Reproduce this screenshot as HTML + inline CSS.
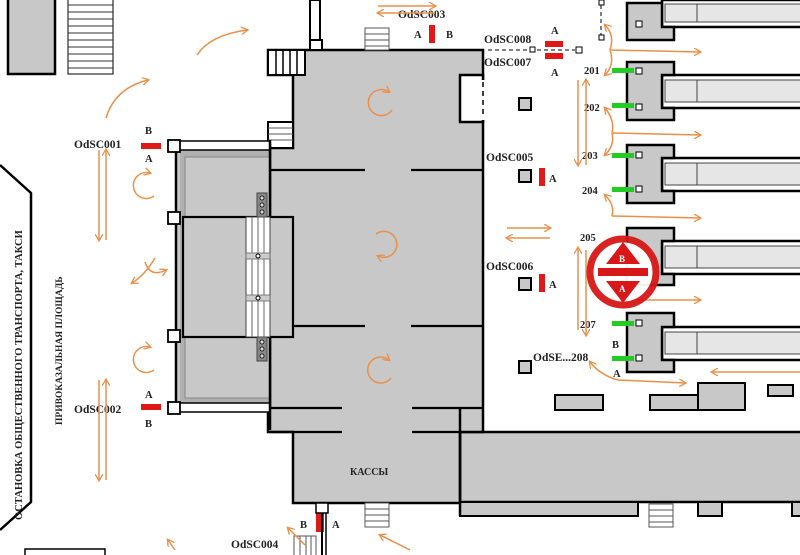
<!DOCTYPE html>
<html><head><meta charset="utf-8"><style>
html,body{margin:0;padding:0;background:#fff;width:800px;height:555px;overflow:hidden}
svg{display:block}
text{font-family:"Liberation Serif",serif;font-weight:bold;fill:#222}
</style></head><body>
<svg width="800" height="555" viewBox="0 0 800 555" xmlns="http://www.w3.org/2000/svg">
<defs>
<marker id="ah" markerWidth="8" markerHeight="8" refX="6" refY="4" orient="auto" markerUnits="userSpaceOnUse"><path d="M0,0 L7,4 L0,8" fill="none" stroke="#e8904a" stroke-width="1.3"/></marker>
</defs>
<g stroke="#000" stroke-width="2.5">
<rect x="8" y="-2" width="47" height="76" fill="#c8c8c8"/>
<rect x="68" y="-2" width="45" height="76" fill="#fff" stroke-width="1"/>
</g>
<g stroke="#333" stroke-width="1">
<line x1="68" y1="5" x2="113" y2="5"/><line x1="68" y1="12" x2="113" y2="12"/><line x1="68" y1="19" x2="113" y2="19"/><line x1="68" y1="26" x2="113" y2="26"/><line x1="68" y1="33" x2="113" y2="33"/><line x1="68" y1="40" x2="113" y2="40"/><line x1="68" y1="47" x2="113" y2="47"/><line x1="68" y1="54" x2="113" y2="54"/><line x1="68" y1="61" x2="113" y2="61"/><line x1="68" y1="68" x2="113" y2="68"/>
</g>
<path d="M0,165 L31,193 L31,502 L0,530" fill="none" stroke="#000" stroke-width="2.5"/>
<text transform="translate(22,520) rotate(-90)" font-size="10.5">ОСТАНОВКА ОБЩЕСТВЕННОГО ТРАНСПОРТА, ТАКСИ</text>
<text transform="translate(62,425) rotate(-90)" font-size="9.5">ПРИВОКАЗАЛЬНАЯ ПЛОЩАДЬ</text>
<rect x="25" y="549" width="80" height="10" fill="#fff" stroke="#000" stroke-width="1.5"/>

<rect x="460" y="432" width="345" height="70" fill="#c8c8c8" stroke="#000" stroke-width="2.5"/>
<rect x="460" y="502" width="178" height="14" fill="#c8c8c8" stroke="#000" stroke-width="2"/>
<rect x="698" y="502" width="24" height="14" fill="#c8c8c8" stroke="#000" stroke-width="2"/>
<rect x="792" y="502" width="20" height="14" fill="#c8c8c8" stroke="#000" stroke-width="2"/>
<rect x="649" y="504" width="24" height="23" fill="#fff" stroke="#555" stroke-width="1"/>
<g stroke="#555" stroke-width="1"><line x1="649" y1="510" x2="673" y2="510"/><line x1="649" y1="516" x2="673" y2="516"/><line x1="649" y1="522" x2="673" y2="522"/></g>

<path d="M268,50 L483,50 L483,432 L460,432 L460,503 L293,503 L293,432 L268,432 L268,148 L293,148 L293,75 L268,75 Z" fill="#c8c8c8" stroke="#000" stroke-width="2.5"/>
<rect x="460" y="75" width="23" height="47" fill="#fff" stroke="#000" stroke-width="2.5"/>
<line x1="483" y1="80" x2="483" y2="120" stroke="#fff" stroke-width="3"/>
<line x1="483" y1="82" x2="483" y2="118" stroke="#000" stroke-width="1.5" stroke-dasharray="5,4"/>
<line x1="460" y1="408" x2="460" y2="516" stroke="#000" stroke-width="2.5"/>
<rect x="268" y="50" width="37" height="25" fill="#fff" stroke="#000" stroke-width="2"/>
<g stroke="#000" stroke-width="1.5"><line x1="276" y1="50" x2="276" y2="75"/><line x1="283" y1="50" x2="283" y2="75"/><line x1="290" y1="50" x2="290" y2="75"/><line x1="297" y1="50" x2="297" y2="75"/></g>
<rect x="268" y="122" width="25" height="26" fill="#fff" stroke="#000" stroke-width="2"/>
<g stroke="#555" stroke-width="1"><line x1="268" y1="128" x2="293" y2="128"/><line x1="268" y1="134" x2="293" y2="134"/><line x1="268" y1="140" x2="293" y2="140"/></g>
<rect x="310" y="0" width="10" height="40" fill="#fff" stroke="#000" stroke-width="2"/>
<rect x="310" y="40" width="12" height="10" fill="#fff" stroke="#000" stroke-width="2"/>
<rect x="365" y="28" width="24" height="22" fill="#fff" stroke="#555" stroke-width="1"/>
<g stroke="#555" stroke-width="1"><line x1="365" y1="34" x2="389" y2="34"/><line x1="365" y1="40" x2="389" y2="40"/><line x1="365" y1="46" x2="389" y2="46"/></g>
<rect x="365" y="503" width="24" height="24" fill="#fff" stroke="#555" stroke-width="1"/>
<g stroke="#555" stroke-width="1"><line x1="365" y1="509" x2="389" y2="509"/><line x1="365" y1="515" x2="389" y2="515"/><line x1="365" y1="521" x2="389" y2="521"/></g>
<g stroke="#000" stroke-width="2.2">
<line x1="270" y1="170" x2="365" y2="170"/><line x1="411" y1="170" x2="483" y2="170"/>
<line x1="293" y1="326" x2="365" y2="326"/><line x1="411" y1="326" x2="483" y2="326"/>
<line x1="270" y1="408" x2="342" y2="408"/><line x1="412" y1="408" x2="483" y2="408"/>
<line x1="268" y1="432" x2="342" y2="432"/><line x1="412" y1="432" x2="460" y2="432"/>
</g>
<text x="350" y="475" font-size="10">КАССЫ</text>

<rect x="176" y="145" width="94" height="263" fill="#c8c8c8" stroke="#000" stroke-width="2.5"/>
<rect x="180" y="150" width="90" height="254" fill="#b0b0b0" stroke="none"/>
<rect x="185" y="157" width="85" height="241" fill="#c8c8c8" stroke="#888" stroke-width="1"/>
<rect x="176" y="141" width="94" height="9" fill="#fff" stroke="#000" stroke-width="1.5"/>
<rect x="176" y="403" width="94" height="9" fill="#fff" stroke="#000" stroke-width="1.5"/>
<line x1="270" y1="140" x2="270" y2="430" stroke="#000" stroke-width="2.5"/>
<rect x="183" y="217" width="110" height="120" fill="#c8c8c8" stroke="#000" stroke-width="2.2"/>
<rect x="246" y="217" width="24" height="120" fill="#fff" stroke="#444" stroke-width="1"/>
<g stroke="#666" stroke-width="1"><line x1="252" y1="217" x2="252" y2="337"/><line x1="258" y1="217" x2="258" y2="337"/><line x1="264" y1="217" x2="264" y2="337"/></g>
<rect x="246" y="253" width="24" height="6" fill="#ccc" stroke="#666" stroke-width="0.8"/>
<rect x="246" y="295" width="24" height="6" fill="#ccc" stroke="#666" stroke-width="0.8"/>
<circle cx="258" cy="256" r="2" fill="#fff" stroke="#000"/><circle cx="258" cy="298" r="2" fill="#fff" stroke="#000"/>
<rect x="257" y="193" width="10" height="24" fill="#888" stroke="#444"/>
<rect x="257" y="337" width="10" height="24" fill="#888" stroke="#444"/>
<g fill="#ddd" stroke="#000" stroke-width="0.8"><circle cx="262" cy="198" r="2"/><circle cx="262" cy="205" r="2"/><circle cx="262" cy="212" r="2"/><circle cx="262" cy="342" r="2"/><circle cx="262" cy="349" r="2"/><circle cx="262" cy="356" r="2"/></g>
<g fill="#fff" stroke="#000" stroke-width="1.8">
<rect x="168" y="140" width="12" height="12"/><rect x="168" y="212" width="12" height="12"/><rect x="168" y="330" width="12" height="12"/><rect x="168" y="402" width="12" height="12"/>
</g>

<g stroke="#000" stroke-width="2.5">
<rect x="662" y="0" width="145" height="27" fill="#fff"/>
<rect x="662" y="75" width="145" height="33" fill="#fff"/>
<rect x="662" y="158" width="145" height="33" fill="#fff"/>
<rect x="662" y="241" width="145" height="33" fill="#fff"/>
<rect x="662" y="327" width="145" height="33" fill="#fff"/>
</g>
<g fill="#e6e6e6" stroke="#444" stroke-width="1">
<rect x="665" y="4" width="140" height="18"/>
<rect x="665" y="80" width="140" height="22"/>
<rect x="665" y="163" width="140" height="22"/>
<rect x="665" y="246" width="140" height="22"/>
<rect x="665" y="332" width="140" height="22"/>
<line x1="697" y1="4" x2="697" y2="22"/><line x1="697" y1="80" x2="697" y2="102"/><line x1="697" y1="163" x2="697" y2="185"/><line x1="697" y1="246" x2="697" y2="268"/><line x1="697" y1="332" x2="697" y2="354"/>
</g>
<g fill="#c8c8c8" stroke="#000" stroke-width="2.5">
<path d="M627,3 L662,3 L662,27 L674,27 L674,40 L627,40 Z"/>
<path d="M627,62 L674,62 L674,75 L662,75 L662,108 L674,108 L674,120 L627,120 Z"/>
<path d="M627,145 L674,145 L674,158 L662,158 L662,191 L674,191 L674,203 L627,203 Z"/>
<path d="M627,228 L674,228 L674,241 L662,241 L662,274 L674,274 L674,285 L627,285 Z"/>
<path d="M627,313 L674,313 L674,327 L662,327 L662,360 L674,360 L674,372 L627,372 Z"/>
</g>
<g fill="#fff" stroke="#000" stroke-width="1"><rect x="636" y="21" width="6" height="6"/><rect x="636" y="68" width="6" height="6"/><rect x="636" y="104" width="6" height="6"/><rect x="636" y="152" width="6" height="6"/><rect x="636" y="186" width="6" height="6"/><rect x="636" y="320" width="6" height="6"/><rect x="636" y="355" width="6" height="6"/></g>
<g fill="#2c2" ><rect x="612" y="68" width="22" height="5"/><rect x="612" y="103" width="22" height="5"/><rect x="612" y="153" width="22" height="5"/><rect x="612" y="187" width="22" height="5"/><rect x="612" y="321" width="22" height="5"/><rect x="612" y="356" width="22" height="5"/></g>
<g fill="#c8c8c8" stroke="#000" stroke-width="2"><rect x="519" y="98" width="12" height="12"/><rect x="519" y="170" width="12" height="12"/><rect x="519" y="278" width="12" height="12"/><rect x="519" y="361" width="12" height="12"/>
<rect x="555" y="395" width="48" height="15"/><rect x="650" y="395" width="50" height="15"/><rect x="698" y="383" width="47" height="27"/><rect x="768" y="385" width="25" height="11"/></g>
<g stroke="#000" stroke-width="1" fill="#fff" stroke-dasharray="4,3"><line x1="488" y1="50" x2="575" y2="50"/><line x1="601" y1="5" x2="601" y2="36"/></g>
<g stroke="#000" stroke-width="1" fill="#fff"><rect x="530" y="47" width="5" height="5"/><rect x="576" y="47" width="6" height="6"/><rect x="599" y="0" width="5" height="5"/><rect x="599" y="35" width="5" height="5"/></g>

<g fill="#e01818">
<rect x="141" y="143" width="20" height="6"/><rect x="141" y="404" width="20" height="6"/>
<rect x="429" y="25" width="6" height="18"/><rect x="545" y="41" width="18" height="6"/><rect x="545" y="53" width="18" height="6"/>
<rect x="539" y="168" width="6" height="18"/><rect x="539" y="274" width="6" height="18"/><rect x="316" y="512" width="8" height="20"/>
</g>
<rect x="316" y="503" width="12" height="10" fill="#fff" stroke="#000" stroke-width="1.5"/>
<line x1="322" y1="513" x2="322" y2="555" stroke="#000" stroke-width="2"/>
<line x1="326" y1="513" x2="326" y2="555" stroke="#000" stroke-width="1.5"/>
<rect x="294" y="536" width="22" height="20" fill="#fff" stroke="#555" stroke-width="1"/>
<g stroke="#555" stroke-width="1"><line x1="300" y1="536" x2="300" y2="555"/><line x1="306" y1="536" x2="306" y2="555"/><line x1="311" y1="536" x2="311" y2="555"/></g>

<g font-size="11.5">
<text x="74" y="148">OdSC001</text><text x="74" y="413">OdSC002</text>
<text x="398" y="18">OdSC003</text><text x="484" y="43">OdSC008</text><text x="484" y="66">OdSC007</text>
<text x="486" y="161">OdSC005</text><text x="486" y="270">OdSC006</text><text x="231" y="548">OdSC004</text>
<text x="533" y="361">OdSE...208</text>
</g>
<g font-size="10.5">
<text x="145" y="134">B</text><text x="145" y="162">A</text><text x="145" y="398">A</text><text x="145" y="427">B</text>
<text x="414" y="38">A</text><text x="446" y="38">B</text><text x="551" y="34">A</text><text x="551" y="76">A</text>
<text x="549" y="182">A</text><text x="549" y="288">A</text><text x="300" y="528">B</text><text x="332" y="528">A</text>
<text x="612" y="348">B</text><text x="613" y="377">A</text>
<text x="584" y="74">201</text><text x="584" y="111">202</text><text x="582" y="159">203</text><text x="582" y="194">204</text><text x="580" y="241">205</text><text x="580" y="328">207</text>
</g>

<g fill="none" stroke="#e8904a" stroke-width="1.5" marker-end="url(#ah)">
<path d="M197,55 Q210,35 247,30"/>
<path d="M106,118 Q115,88 148,80"/>
<path d="M99,150 L99,240"/><path d="M106,240 L106,150"/>
<path d="M99,380 L99,480"/><path d="M106,480 L106,380"/>
<path d="M154,196 A13,13 0 1 1 150,173"/>
<path d="M154,370 A13,13 0 1 1 150,347"/>
<path d="M392,110 A13,13 0 1 1 389,92"/>
<path d="M391,378 A13,13 0 1 1 389,360"/>
<path d="M376,234 A13,13 0 1 1 378,256"/>
<path d="M145,262 Q150,278 166,270"/><path d="M155,258 Q145,275 132,283"/>
<path d="M435,13 L378,13"/><path d="M378,6 L435,6"/>
<path d="M507,228 L550,228"/><path d="M550,238 L507,238"/>
<path d="M578,80 L578,165"/><path d="M586,165 L586,80"/>
<path d="M578,330 L578,248"/><path d="M586,250 L586,335"/>
<path d="M610,50 Q615,35 605,25"/><path d="M610,50 Q615,65 605,75"/><path d="M610,50 L700,52"/>
<path d="M612,133 Q615,120 605,108"/><path d="M612,133 Q615,145 605,155"/><path d="M612,133 L700,135"/>
<path d="M612,216 Q615,205 605,195"/><path d="M612,216 L700,218"/>
<path d="M612,300 L700,300"/>
<path d="M618,380 Q600,375 590,362"/><path d="M618,380 L685,383"/>
<path d="M800,372 L712,372"/>
<path d="M175,550 L168,540"/><path d="M305,545 L288,528"/><path d="M410,550 L380,535"/>
</g>

<circle cx="623" cy="272" r="33" fill="#fff" stroke="#d81818" stroke-width="7" opacity="0.95"/>
<path d="M623,242 L640,264 L606,264 Z" fill="#d81818"/>
<path d="M623,303 L640,281 L606,281 Z" fill="#d81818"/>
<rect x="598" y="268" width="50" height="8" fill="#d81818"/>
<text x="619" y="262" font-size="9" style="fill:#fff">B</text>
<text x="619" y="292" font-size="9" style="fill:#fff">A</text>
</svg>
</body></html>
